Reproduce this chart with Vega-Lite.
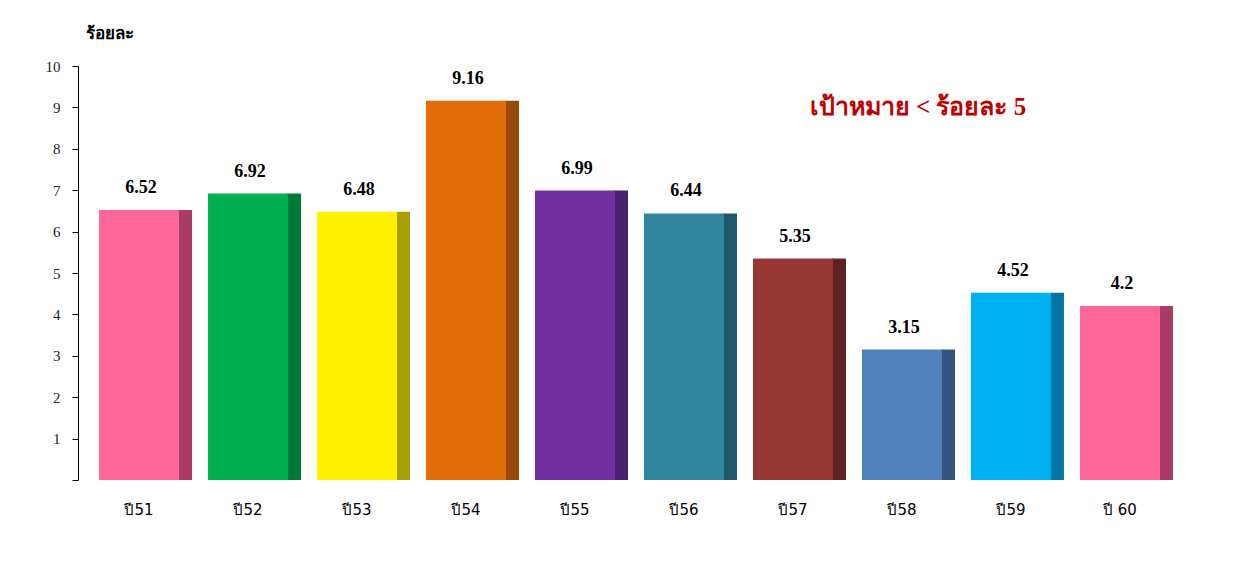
{
  "$schema": "https://vega.github.io/schema/vega-lite/v6.json",
  "width": 1103,
  "height": 414,
  "autosize": {"type": "none"},
  "padding": {"left": 78, "top": 66, "right": 53, "bottom": 94},
  "background": "white",
  "config": {"view": {"stroke": null}},
  "layer": [
    {
      "data": {
        "values": [
          {"year": "ปี51", "value": 6.52},
          {"year": "ปี52", "value": 6.92},
          {"year": "ปี53", "value": 6.48},
          {"year": "ปี54", "value": 9.16},
          {"year": "ปี55", "value": 6.99},
          {"year": "ปี56", "value": 6.44},
          {"year": "ปี57", "value": 5.35},
          {"year": "ปี58", "value": 3.15},
          {"year": "ปี59", "value": 4.52},
          {"year": "ปี 60", "value": 4.2}
        ]
      },
      "encoding": {
        "x": {
          "field": "year",
          "type": "nominal",
          "sort": null,
          "scale": {"paddingInner": 0.2, "paddingOuter": 0.16},
          "axis": {
            "title": null,
            "domain": false,
            "ticks": false,
            "labelAngle": 0,
            "labelPadding": 22,
            "labelFont": "Tahoma, DejaVu Sans, sans-serif",
            "labelFontSize": 15,
            "labelColor": "#000000"
          }
        },
        "y": {
          "field": "value",
          "type": "quantitative",
          "scale": {"domain": [0, 10], "nice": false},
          "axis": {
            "title": "ร้อยละ",
            "titleAngle": 0,
            "titleAlign": "left",
            "titleBaseline": "alphabetic",
            "titleX": 7,
            "titleY": -28,
            "titleFontSize": 17,
            "titleFontWeight": "bold",
            "titleColor": "#000000",
            "values": [0, 1, 2, 3, 4, 5, 6, 7, 8, 9, 10],
            "labelExpr": "datum.value == 0 ? '' : datum.label",
            "labelFont": "Liberation Serif",
            "labelFontSize": 15,
            "labelColor": "#222222",
            "labelPadding": 12,
            "tickSize": 6,
            "tickColor": "#000000",
            "domainColor": "#000000",
            "grid": false
          }
        }
      },
      "layer": [
        {
          "mark": {"type": "bar", "size": 14, "xOffset": 46},
          "encoding": {
            "color": {
              "field": "year",
              "type": "nominal",
              "sort": null,
              "legend": null,
              "scale": {
                "domain": ["ปี51", "ปี52", "ปี53", "ปี54", "ปี55", "ปี56", "ปี57", "ปี58", "ปี59", "ปี 60"],
                "range": ["#A83C66", "#007A38", "#A8A000", "#984807", "#4A1F6B", "#1F5868", "#5E2222", "#34567E", "#0077A3", "#A83C66"]
              }
            }
          }
        },
        {
          "mark": {"type": "bar", "size": 80},
          "encoding": {
            "fill": {
              "field": "year",
              "type": "nominal",
              "sort": null,
              "legend": null,
              "scale": {
                "domain": ["ปี51", "ปี52", "ปี53", "ปี54", "ปี55", "ปี56", "ปี57", "ปี58", "ปี59", "ปี 60"],
                "range": ["#FF6699", "#00B050", "#FFF200", "#E36C0A", "#7030A0", "#31859C", "#953735", "#4F81BD", "#00B0F0", "#FF6699"]
              }
            }
          }
        },
        {
          "mark": {
            "type": "text",
            "dy": -13,
            "dx": 2,
            "baseline": "bottom",
            "font": "Liberation Serif",
            "fontSize": 18,
            "fontWeight": "bold",
            "color": "#000000"
          },
          "encoding": {"text": {"field": "value", "type": "quantitative"}}
        }
      ]
    },
    {
      "data": {"values": [{"note": "เป้าหมาย < ร้อยละ 5"}]},
      "mark": {
        "type": "text",
        "align": "center",
        "baseline": "middle",
        "font": "Liberation Serif",
        "fontSize": 25,
        "fontWeight": "bold",
        "color": "#C00000",
        "dx": 16
      },
      "encoding": {
        "x": {"datum": "ปี58"},
        "y": {"datum": 9},
        "text": {"field": "note"}
      }
    }
  ],
  "resolve": {"scale": {"color": "independent", "fill": "independent"}}
}
